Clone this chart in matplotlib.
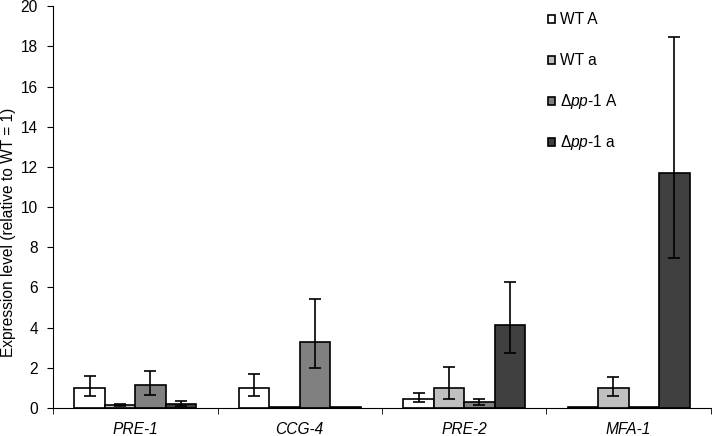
import matplotlib
matplotlib.use("Agg")
import matplotlib.pyplot as plt
from matplotlib.patches import Rectangle
import numpy as np

plt.rcParams['font.family'] = ['Liberation Sans', 'DejaVu Sans']
plt.rcParams['font.size'] = 11.2
plt.rcParams['mathtext.fontset'] = 'custom'
plt.rcParams['mathtext.it'] = 'Liberation Sans:italic'
plt.rcParams['mathtext.rm'] = 'Liberation Sans'

genes = ['PRE-1', 'CCG-4', 'PRE-2', 'MFA-1']
series = ['WT A', 'WT a', r'$\mathit{\Delta pp}$-$\mathit{1}$ A', r'$\mathit{\Delta pp}$-$\mathit{1}$ a']
colors = ['white', '#c0c0c0', '#808080', '#404040']

# mean values per series for each gene
wt_A = [1.0, 1.0, 0.45, 0.05]
wt_a = [0.15, 0.05, 1.0, 1.0]
pp_A = [1.14, 3.3, 0.28, 0.05]
pp_a = [0.2, 0.05, 4.13, 11.7]

# error bar ends (low, high)
wt_A_lo = [0.58, 0.6, 0.28, 0.05]
wt_A_hi = [1.62, 1.68, 0.76, 0.05]
wt_a_lo = [0.12, 0.05, 0.45, 0.6]
wt_a_hi = [0.2, 0.05, 2.05, 1.53]
pp_A_lo = [0.66, 2.0, 0.15, 0.05]
pp_A_hi = [1.84, 5.44, 0.45, 0.05]
pp_a_lo = [0.1, 0.05, 2.75, 7.45]
pp_a_hi = [0.36, 0.05, 6.28, 18.45]

means = [wt_A, wt_a, pp_A, pp_a]
lows = [wt_A_lo, wt_a_lo, pp_A_lo, pp_a_lo]
highs = [wt_A_hi, wt_a_hi, pp_A_hi, pp_a_hi]

fig = plt.figure(figsize=(7.12, 4.36), dpi=100)
ax = fig.add_axes([0.0745, 0.064, 0.924, 0.922])

x = np.arange(len(genes))
w = 0.185
for i in range(4):
    m = np.array(means[i])
    lo = m - np.array(lows[i])
    hi = np.array(highs[i]) - m
    pos = x + (i - 1.5) * w
    ax.bar(pos, m, w, color=colors[i], edgecolor='black', linewidth=1.2, zorder=2)
    show = (lo > 0.01) | (hi > 0.01)
    ax.errorbar(pos[show], m[show], yerr=[lo[show], hi[show]], fmt='none',
                ecolor='black', elinewidth=1.2, capsize=4, capthick=1.2, zorder=3)

ax.set_xlim(-0.5, 3.5)
ax.set_ylim(0, 20)
ax.set_yticks(np.arange(0, 21, 2))
ax.set_xticks(x)
ax.set_xticklabels(genes, fontstyle='italic')
ax.set_xticks(np.arange(-0.5, 4, 1), minor=True)
ax.tick_params(axis='x', which='major', length=0, pad=10)
ax.tick_params(axis='x', which='minor', length=4, direction='out')
ax.tick_params(axis='y', length=4, direction='out', pad=7)
ax.spines['top'].set_visible(False)
ax.spines['right'].set_visible(False)
ax.set_ylabel('Expression level (relative to WT = 1)')
ax.yaxis.set_label_coords(-0.056, 0.438)

# legend: square swatches with labels, evenly spaced rows
for i in range(4):
    yc = 0.967 - i * 0.102
    ax.add_patch(Rectangle((0.752, yc - 0.01), 0.0115, 0.02, transform=ax.transAxes,
                           facecolor=colors[i], edgecolor='black', linewidth=1.2,
                           clip_on=False))
    ax.text(0.771, yc, series[i], transform=ax.transAxes, va='center', ha='left')

fig.savefig('out.png', dpi=100)
